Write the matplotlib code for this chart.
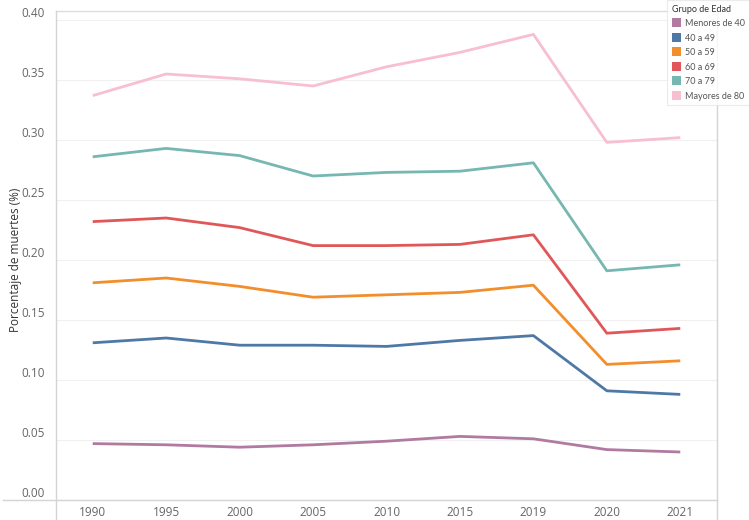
import matplotlib
matplotlib.use("Agg")
import matplotlib.pyplot as plt
from matplotlib.lines import Line2D
from matplotlib.patches import Patch

plt.rcParams['font.family'] = ['Open Sans', 'DejaVu Sans']

years = ["1990", "1995", "2000", "2005", "2010", "2015", "2019", "2020", "2021"]
groups = ["Menores de 40", "40 a 49", "50 a 59", "60 a 69", "70 a 79", "Mayores de 80"]
menores_40 = [0.047, 0.046, 0.044, 0.046, 0.049, 0.053, 0.051, 0.042, 0.040]
g40_49 = [0.131, 0.135, 0.129, 0.129, 0.128, 0.133, 0.137, 0.091, 0.088]
g50_59 = [0.181, 0.185, 0.178, 0.169, 0.171, 0.173, 0.179, 0.113, 0.116]
g60_69 = [0.232, 0.235, 0.227, 0.212, 0.212, 0.213, 0.221, 0.139, 0.143]
g70_79 = [0.286, 0.293, 0.287, 0.270, 0.273, 0.274, 0.281, 0.191, 0.196]
mayores_80 = [0.337, 0.355, 0.351, 0.345, 0.361, 0.373, 0.388, 0.298, 0.302]
series = [menores_40, g40_49, g50_59, g60_69, g70_79, mayores_80]
colors = ["#B07AA1", "#4E79A7", "#F28E2B", "#E15759", "#76B7B2", "#F7BFD0"]
yticks = [0.0, 0.05, 0.10, 0.15, 0.20, 0.25, 0.30, 0.35, 0.40]

W, H = 749, 520
fig = plt.figure(figsize=(W / 100, H / 100), dpi=100)
ax = fig.add_axes([56 / W, (H - 500) / H, (717 - 56) / W, (500 - 11) / H])

x = list(range(len(years)))
for vals, c in zip(series, colors):
    ax.plot(x, vals, color=c, lw=2.0, solid_capstyle='butt', zorder=3)

ax.set_xlim(-0.5, len(years) - 0.5)
ax.set_ylim(0, 0.4075)
ax.set_xticks(x)
ax.set_xticklabels(years)
ax.set_yticks(yticks)
ax.set_yticklabels([f"{v:.2f}" for v in yticks])
ax.tick_params(axis='both', length=0, labelsize=8.5, labelcolor="#666666")
ax.tick_params(axis='y', pad=8)
ax.tick_params(axis='x', pad=4)
for lab in ax.get_yticklabels():
    lab.set_verticalalignment('bottom')
ax.grid(axis='y', color="#f0f0f0", lw=0.8)
ax.set_axisbelow(True)
for s in ['left', 'right', 'bottom']:
    ax.spines[s].set_visible(False)
ax.spines['top'].set_color("#dddddd")
ax.spines['top'].set_linewidth(1.0)

ax.set_ylabel("Porcentaje de muertes (%)", fontsize=8.5, color="#333333")
ax.yaxis.set_label_coords((22 - 56) / (717 - 56), (500 - 260) / (500 - 11))

# frame lines extending past the plot, Tableau style
fig.add_artist(Line2D([3 / W, 717 / W], [(H - 500) / H] * 2, color="#d4d4d4", lw=1.0))
fig.add_artist(Line2D([56 / W] * 2, [0, (H - 11) / H], color="#d4d4d4", lw=1.0))
fig.add_artist(Line2D([717 / W] * 2, [0, (H - 11) / H], color="#d4d4d4", lw=1.0))

handles = [Patch(facecolor=c, edgecolor='none', label=g) for g, c in zip(groups, colors)]
leg = fig.legend(handles=handles, title="Grupo de Edad", loc='upper left',
                 bbox_to_anchor=(667 / W, 1.0), frameon=True,
                 prop={'family': 'Lato', 'size': 6.5},
                 title_fontproperties={'family': 'Lato', 'size': 6.5},
                 handlelength=1.1, handleheight=1.15,
                 handletextpad=0.4, labelspacing=0.55, borderpad=0.5,
                 borderaxespad=0.0, alignment='left')
leg.get_frame().set_edgecolor("#e6e6e6")
leg.get_frame().set_linewidth(0.8)
leg.get_frame().set_boxstyle('square', pad=0)
for t in leg.get_texts():
    t.set_color("#555555")
leg.get_title().set_color("#333333")

fig.savefig("out.png", dpi=100, facecolor="white")
